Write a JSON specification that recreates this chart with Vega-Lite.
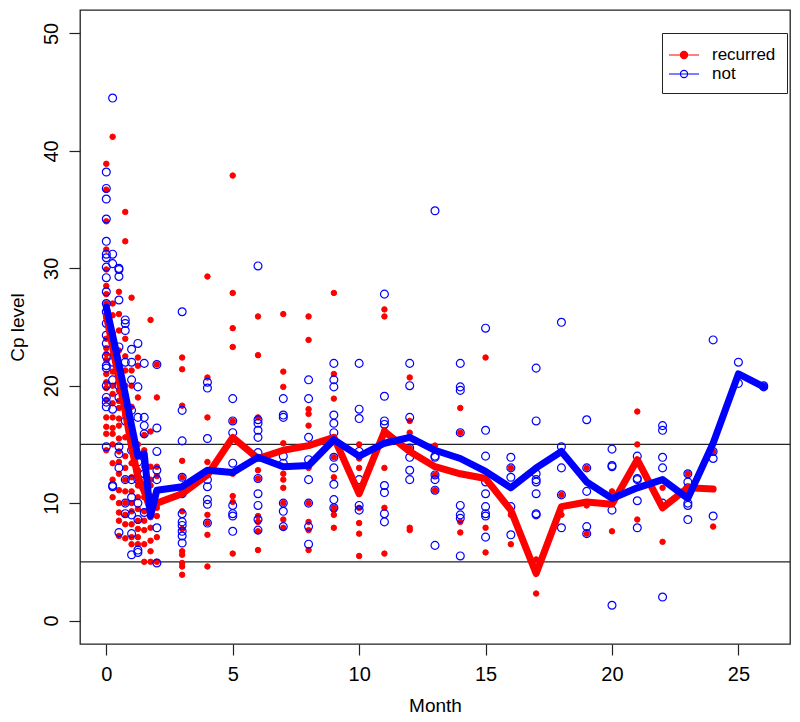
{
"$schema": "https://vega.github.io/schema/vega-lite/v6.json",
"width": 710, "height": 634,
"autosize": "none",
"padding": {"left": 80, "top": 10, "right": 10, "bottom": 78},
"background": "white",
"config": {
  "view": {"stroke": "#222", "strokeWidth": 1.3},
  "font": "Liberation Sans",
  "axis": {"grid": false, "domain": false, "tickColor": "#222", "tickWidth": 1.2, "tickSize": 11, "labelFontSize": 20, "labelColor": "#000", "titleFontSize": 19, "titleFontWeight": "normal", "titleColor": "#000", "labelFont": "Liberation Sans", "titleFont": "Liberation Sans"}
},
"datasets": {
"pts": [
{"m":0,"v":38.9,"g":"recurred"},{"m":0,"v":36.7,"g":"recurred"},{"m":0,"v":34.0,"g":"recurred"},{"m":0,"v":31.6,"g":"recurred"},{"m":0,"v":29.9,"g":"recurred"},{"m":0,"v":28.5,"g":"recurred"},{"m":0,"v":27.8,"g":"recurred"},{"m":0,"v":27.0,"g":"recurred"},{"m":0,"v":22.7,"g":"recurred"},{"m":0,"v":22.2,"g":"recurred"},{"m":0,"v":20.3,"g":"recurred"},{"m":0,"v":18.8,"g":"recurred"},{"m":0,"v":17.3,"g":"recurred"},{"m":0,"v":15.9,"g":"recurred"},
{"m":0,"v":26.5,"g":"recurred"},{"m":0,"v":25.8,"g":"recurred"},{"m":0,"v":24.0,"g":"recurred"},{"m":0,"v":23.2,"g":"recurred"},{"m":0,"v":21.0,"g":"recurred"},{"m":0,"v":19.8,"g":"recurred"},{"m":0,"v":16.5,"g":"recurred"},{"m":0,"v":14.5,"g":"recurred"},
{"m":0.25,"v":41.2,"g":"recurred"},{"m":0.25,"v":27.0,"g":"recurred"},{"m":0.25,"v":22.6,"g":"recurred"},{"m":0.25,"v":21.2,"g":"recurred"},{"m":0.25,"v":20.0,"g":"recurred"},{"m":0.25,"v":19.3,"g":"recurred"},{"m":0.25,"v":17.3,"g":"recurred"},{"m":0.25,"v":16.4,"g":"recurred"},{"m":0.25,"v":15.9,"g":"recurred"},{"m":0.25,"v":13.4,"g":"recurred"},
{"m":0.25,"v":26.0,"g":"recurred"},{"m":0.25,"v":24.5,"g":"recurred"},{"m":0.25,"v":23.5,"g":"recurred"},{"m":0.25,"v":18.5,"g":"recurred"},{"m":0.25,"v":15.0,"g":"recurred"},{"m":0.25,"v":12.0,"g":"recurred"},{"m":0.25,"v":10.5,"g":"recurred"},
{"m":0.5,"v":28.0,"g":"recurred"},{"m":0.5,"v":26.1,"g":"recurred"},{"m":0.5,"v":24.7,"g":"recurred"},{"m":0.5,"v":19.6,"g":"recurred"},{"m":0.5,"v":18.7,"g":"recurred"},{"m":0.5,"v":18.1,"g":"recurred"},{"m":0.5,"v":16.6,"g":"recurred"},{"m":0.5,"v":14.4,"g":"recurred"},{"m":0.5,"v":12.5,"g":"recurred"},{"m":0.5,"v":11.1,"g":"recurred"},{"m":0.5,"v":10.0,"g":"recurred"},{"m":0.5,"v":9.2,"g":"recurred"},
{"m":0.5,"v":23.0,"g":"recurred"},{"m":0.5,"v":21.5,"g":"recurred"},{"m":0.5,"v":17.2,"g":"recurred"},{"m":0.5,"v":15.5,"g":"recurred"},{"m":0.5,"v":13.5,"g":"recurred"},{"m":0.5,"v":8.5,"g":"recurred"},{"m":0.5,"v":7.2,"g":"recurred"},
{"m":0.75,"v":34.8,"g":"recurred"},{"m":0.75,"v":32.3,"g":"recurred"},{"m":0.75,"v":21.3,"g":"recurred"},{"m":0.75,"v":18.9,"g":"recurred"},{"m":0.75,"v":15.6,"g":"recurred"},{"m":0.75,"v":12.0,"g":"recurred"},{"m":0.75,"v":11.0,"g":"recurred"},{"m":0.75,"v":8.2,"g":"recurred"},
{"m":0.75,"v":24.0,"g":"recurred"},{"m":0.75,"v":22.5,"g":"recurred"},{"m":0.75,"v":20.0,"g":"recurred"},{"m":0.75,"v":17.5,"g":"recurred"},{"m":0.75,"v":14.0,"g":"recurred"},{"m":0.75,"v":13.0,"g":"recurred"},{"m":0.75,"v":10.0,"g":"recurred"},{"m":0.75,"v":9.0,"g":"recurred"},{"m":0.75,"v":7.0,"g":"recurred"},
{"m":1,"v":27.5,"g":"recurred"},{"m":1,"v":21.3,"g":"recurred"},{"m":1,"v":18.2,"g":"recurred"},{"m":1,"v":14.6,"g":"recurred"},{"m":1,"v":13.4,"g":"recurred"},{"m":1,"v":11.0,"g":"recurred"},{"m":1,"v":9.3,"g":"recurred"},{"m":1,"v":7.1,"g":"recurred"},
{"m":1,"v":20.0,"g":"recurred"},{"m":1,"v":16.5,"g":"recurred"},{"m":1,"v":15.5,"g":"recurred"},{"m":1,"v":12.2,"g":"recurred"},{"m":1,"v":10.0,"g":"recurred"},{"m":1,"v":8.2,"g":"recurred"},{"m":1,"v":6.5,"g":"recurred"},
{"m":1.25,"v":22.4,"g":"recurred"},{"m":1.25,"v":21.7,"g":"recurred"},{"m":1.25,"v":12.8,"g":"recurred"},{"m":1.25,"v":10.5,"g":"recurred"},{"m":1.25,"v":7.1,"g":"recurred"},{"m":1.25,"v":6.5,"g":"recurred"},
{"m":1.25,"v":19.0,"g":"recurred"},{"m":1.25,"v":15.0,"g":"recurred"},{"m":1.25,"v":14.0,"g":"recurred"},{"m":1.25,"v":11.5,"g":"recurred"},{"m":1.25,"v":9.5,"g":"recurred"},{"m":1.25,"v":8.5,"g":"recurred"},{"m":1.25,"v":7.8,"g":"recurred"},
{"m":1.5,"v":15.8,"g":"recurred"},{"m":1.5,"v":13.1,"g":"recurred"},{"m":1.5,"v":9.3,"g":"recurred"},{"m":1.5,"v":7.7,"g":"recurred"},{"m":1.5,"v":5.0,"g":"recurred"},
{"m":1.5,"v":14.5,"g":"recurred"},{"m":1.5,"v":11.0,"g":"recurred"},{"m":1.5,"v":10.5,"g":"recurred"},{"m":1.5,"v":8.5,"g":"recurred"},{"m":1.5,"v":6.5,"g":"recurred"},
{"m":1.75,"v":25.6,"g":"recurred"},{"m":1.75,"v":16.1,"g":"recurred"},{"m":1.75,"v":13.1,"g":"recurred"},{"m":1.75,"v":10.6,"g":"recurred"},{"m":1.75,"v":9.6,"g":"recurred"},{"m":1.75,"v":7.9,"g":"recurred"},{"m":1.75,"v":5.9,"g":"recurred"},{"m":1.75,"v":5.0,"g":"recurred"},
{"m":1.75,"v":12.0,"g":"recurred"},{"m":1.75,"v":11.5,"g":"recurred"},{"m":1.75,"v":8.8,"g":"recurred"},{"m":1.75,"v":6.8,"g":"recurred"},
{"m":2,"v":21.8,"g":"recurred"},{"m":2,"v":19.0,"g":"recurred"},{"m":2,"v":13.1,"g":"recurred"},{"m":2,"v":12.3,"g":"recurred"},{"m":2,"v":9.6,"g":"recurred"},{"m":2,"v":8.9,"g":"recurred"},{"m":2,"v":7.1,"g":"recurred"},{"m":2,"v":5.0,"g":"recurred"},
{"m":3,"v":22.4,"g":"recurred"},{"m":3,"v":21.4,"g":"recurred"},{"m":3,"v":18.3,"g":"recurred"},{"m":3,"v":13.6,"g":"recurred"},{"m":3,"v":12.2,"g":"recurred"},{"m":3,"v":9.3,"g":"recurred"},{"m":3,"v":7.8,"g":"recurred"},{"m":3,"v":5.9,"g":"recurred"},{"m":3,"v":5.6,"g":"recurred"},{"m":3,"v":4.9,"g":"recurred"},{"m":3,"v":4.6,"g":"recurred"},{"m":3,"v":3.9,"g":"recurred"},
{"m":4,"v":29.3,"g":"recurred"},{"m":4,"v":20.7,"g":"recurred"},{"m":4,"v":17.3,"g":"recurred"},{"m":4,"v":13.5,"g":"recurred"},{"m":4,"v":9.0,"g":"recurred"},{"m":4,"v":8.3,"g":"recurred"},{"m":4,"v":7.3,"g":"recurred"},{"m":4,"v":4.6,"g":"recurred"},
{"m":5,"v":37.9,"g":"recurred"},{"m":5,"v":27.9,"g":"recurred"},{"m":5,"v":24.9,"g":"recurred"},{"m":5,"v":23.3,"g":"recurred"},{"m":5,"v":17.0,"g":"recurred"},{"m":5,"v":12.5,"g":"recurred"},{"m":5,"v":10.6,"g":"recurred"},{"m":5,"v":10.1,"g":"recurred"},{"m":5,"v":5.7,"g":"recurred"},
{"m":6,"v":25.9,"g":"recurred"},{"m":6,"v":22.6,"g":"recurred"},{"m":6,"v":17.3,"g":"recurred"},{"m":6,"v":12.8,"g":"recurred"},{"m":6,"v":12.1,"g":"recurred"},{"m":6,"v":8.9,"g":"recurred"},{"m":6,"v":8.4,"g":"recurred"},{"m":6,"v":7.6,"g":"recurred"},{"m":6,"v":6.0,"g":"recurred"},
{"m":7,"v":26.1,"g":"recurred"},{"m":7,"v":21.2,"g":"recurred"},{"m":7,"v":19.9,"g":"recurred"},{"m":7,"v":15.1,"g":"recurred"},{"m":7,"v":12.5,"g":"recurred"},{"m":7,"v":12.0,"g":"recurred"},{"m":7,"v":11.3,"g":"recurred"},{"m":7,"v":10.0,"g":"recurred"},{"m":7,"v":8.6,"g":"recurred"},{"m":7,"v":7.9,"g":"recurred"},
{"m":8,"v":25.9,"g":"recurred"},{"m":8,"v":23.9,"g":"recurred"},{"m":8,"v":18.0,"g":"recurred"},{"m":8,"v":17.6,"g":"recurred"},{"m":8,"v":16.6,"g":"recurred"},{"m":8,"v":13.0,"g":"recurred"},{"m":8,"v":10.0,"g":"recurred"},{"m":8,"v":8.4,"g":"recurred"},{"m":8,"v":7.7,"g":"recurred"},{"m":8,"v":6.0,"g":"recurred"},
{"m":9,"v":27.9,"g":"recurred"},{"m":9,"v":21.0,"g":"recurred"},{"m":9,"v":18.9,"g":"recurred"},{"m":9,"v":13.9,"g":"recurred"},{"m":9,"v":12.2,"g":"recurred"},{"m":9,"v":9.6,"g":"recurred"},{"m":9,"v":9.4,"g":"recurred"},{"m":9,"v":9.0,"g":"recurred"},{"m":9,"v":7.9,"g":"recurred"},
{"m":10,"v":15.0,"g":"recurred"},{"m":10,"v":13.8,"g":"recurred"},{"m":10,"v":13.0,"g":"recurred"},{"m":10,"v":9.6,"g":"recurred"},{"m":10,"v":8.3,"g":"recurred"},{"m":10,"v":7.4,"g":"recurred"},{"m":10,"v":5.5,"g":"recurred"},
{"m":11,"v":26.5,"g":"recurred"},{"m":11,"v":25.9,"g":"recurred"},{"m":11,"v":16.2,"g":"recurred"},{"m":11,"v":13.0,"g":"recurred"},{"m":11,"v":9.6,"g":"recurred"},{"m":11,"v":5.7,"g":"recurred"},
{"m":12,"v":20.7,"g":"recurred"},{"m":12,"v":17.0,"g":"recurred"},{"m":12,"v":16.0,"g":"recurred"},{"m":12,"v":14.7,"g":"recurred"},{"m":12,"v":7.9,"g":"recurred"},{"m":12,"v":7.7,"g":"recurred"},
{"m":13,"v":14.9,"g":"recurred"},{"m":13,"v":12.4,"g":"recurred"},{"m":13,"v":11.1,"g":"recurred"},
{"m":14,"v":18.1,"g":"recurred"},{"m":14,"v":16.0,"g":"recurred"},{"m":14,"v":8.4,"g":"recurred"},{"m":14,"v":7.5,"g":"recurred"},
{"m":15,"v":22.4,"g":"recurred"},{"m":15,"v":7.9,"g":"recurred"},{"m":15,"v":5.8,"g":"recurred"},
{"m":16,"v":13.0,"g":"recurred"},{"m":16,"v":9.0,"g":"recurred"},{"m":16,"v":6.5,"g":"recurred"},
{"m":17,"v":5.2,"g":"recurred"},{"m":17,"v":2.3,"g":"recurred"},
{"m":18,"v":10.7,"g":"recurred"},{"m":18,"v":9.0,"g":"recurred"},
{"m":19,"v":13.0,"g":"recurred"},{"m":19,"v":9.8,"g":"recurred"},{"m":19,"v":7.4,"g":"recurred"},
{"m":20,"v":11.0,"g":"recurred"},{"m":20,"v":7.6,"g":"recurred"},
{"m":21,"v":17.8,"g":"recurred"},{"m":21,"v":15.0,"g":"recurred"},{"m":21,"v":8.6,"g":"recurred"},
{"m":22,"v":11.3,"g":"recurred"},{"m":22,"v":6.7,"g":"recurred"},
{"m":23,"v":12.5,"g":"recurred"},
{"m":24,"v":14.4,"g":"recurred"},{"m":24,"v":8.0,"g":"recurred"},
{"m":0,"v":38.2,"g":"not"},{"m":0,"v":36.8,"g":"not"},{"m":0,"v":35.9,"g":"not"},{"m":0,"v":34.2,"g":"not"},{"m":0,"v":32.3,"g":"not"},{"m":0,"v":31.2,"g":"not"},{"m":0,"v":30.9,"g":"not"},{"m":0,"v":30.1,"g":"not"},{"m":0,"v":29.2,"g":"not"},{"m":0,"v":26.3,"g":"not"},{"m":0,"v":25.3,"g":"not"},{"m":0,"v":24.3,"g":"not"},{"m":0,"v":23.6,"g":"not"},{"m":0,"v":21.7,"g":"not"},{"m":0,"v":21.5,"g":"not"},{"m":0,"v":19.0,"g":"not"},{"m":0,"v":18.6,"g":"not"},{"m":0,"v":18.2,"g":"not"},{"m":0,"v":14.8,"g":"not"},
{"m":0,"v":28.0,"g":"not"},{"m":0,"v":27.0,"g":"not"},{"m":0,"v":22.5,"g":"not"},{"m":0,"v":20.0,"g":"not"},
{"m":0.25,"v":44.5,"g":"not"},{"m":0.25,"v":31.2,"g":"not"},{"m":0.25,"v":30.4,"g":"not"},{"m":0.25,"v":11.5,"g":"not"},{"m":0.25,"v":11.4,"g":"not"},
{"m":0.25,"v":22.0,"g":"not"},{"m":0.25,"v":20.5,"g":"not"},{"m":0.25,"v":18.0,"g":"not"},
{"m":0.5,"v":30.0,"g":"not"},{"m":0.5,"v":29.9,"g":"not"},{"m":0.5,"v":29.3,"g":"not"},{"m":0.5,"v":27.3,"g":"not"},{"m":0.5,"v":23.3,"g":"not"},{"m":0.5,"v":14.8,"g":"not"},{"m":0.5,"v":14.2,"g":"not"},{"m":0.5,"v":7.5,"g":"not"},
{"m":0.5,"v":20.0,"g":"not"},{"m":0.5,"v":19.0,"g":"not"},{"m":0.5,"v":13.0,"g":"not"},
{"m":0.75,"v":25.6,"g":"not"},{"m":0.75,"v":25.3,"g":"not"},{"m":0.75,"v":24.7,"g":"not"},{"m":0.75,"v":10.0,"g":"not"},{"m":0.75,"v":9.1,"g":"not"},
{"m":0.75,"v":22.0,"g":"not"},{"m":0.75,"v":17.0,"g":"not"},{"m":0.75,"v":12.0,"g":"not"},
{"m":1,"v":23.1,"g":"not"},{"m":1,"v":22.0,"g":"not"},{"m":1,"v":17.9,"g":"not"},{"m":1,"v":12.0,"g":"not"},{"m":1,"v":7.4,"g":"not"},{"m":1,"v":5.6,"g":"not"},
{"m":1,"v":20.5,"g":"not"},{"m":1,"v":14.5,"g":"not"},{"m":1,"v":10.5,"g":"not"},{"m":1,"v":9.0,"g":"not"},
{"m":1.25,"v":23.6,"g":"not"},{"m":1.25,"v":19.9,"g":"not"},{"m":1.25,"v":17.3,"g":"not"},{"m":1.25,"v":12.0,"g":"not"},{"m":1.25,"v":8.6,"g":"not"},{"m":1.25,"v":5.8,"g":"not"},
{"m":1.25,"v":13.5,"g":"not"},{"m":1.25,"v":10.0,"g":"not"},{"m":1.25,"v":6.0,"g":"not"},
{"m":1.5,"v":21.9,"g":"not"},{"m":1.5,"v":17.3,"g":"not"},{"m":1.5,"v":16.6,"g":"not"},{"m":1.5,"v":15.9,"g":"not"},{"m":1.5,"v":12.5,"g":"not"},{"m":1.5,"v":9.2,"g":"not"},
{"m":2,"v":21.8,"g":"not"},{"m":2,"v":16.4,"g":"not"},{"m":2,"v":14.4,"g":"not"},{"m":2,"v":12.8,"g":"not"},{"m":2,"v":12.0,"g":"not"},{"m":2,"v":7.9,"g":"not"},{"m":2,"v":4.9,"g":"not"},
{"m":3,"v":26.3,"g":"not"},{"m":3,"v":17.9,"g":"not"},{"m":3,"v":15.3,"g":"not"},{"m":3,"v":12.2,"g":"not"},{"m":3,"v":10.8,"g":"not"},{"m":3,"v":9.1,"g":"not"},{"m":3,"v":8.4,"g":"not"},{"m":3,"v":8.1,"g":"not"},{"m":3,"v":7.6,"g":"not"},{"m":3,"v":7.2,"g":"not"},{"m":3,"v":6.6,"g":"not"},
{"m":4,"v":20.3,"g":"not"},{"m":4,"v":19.8,"g":"not"},{"m":4,"v":15.5,"g":"not"},{"m":4,"v":12.0,"g":"not"},{"m":4,"v":11.4,"g":"not"},{"m":4,"v":10.3,"g":"not"},{"m":4,"v":9.9,"g":"not"},{"m":4,"v":8.3,"g":"not"},
{"m":5,"v":18.9,"g":"not"},{"m":5,"v":17.0,"g":"not"},{"m":5,"v":16.0,"g":"not"},{"m":5,"v":13.4,"g":"not"},{"m":5,"v":9.8,"g":"not"},{"m":5,"v":9.1,"g":"not"},{"m":5,"v":8.9,"g":"not"},{"m":5,"v":7.6,"g":"not"},
{"m":6,"v":30.2,"g":"not"},{"m":6,"v":17.1,"g":"not"},{"m":6,"v":16.8,"g":"not"},{"m":6,"v":16.2,"g":"not"},{"m":6,"v":15.6,"g":"not"},{"m":6,"v":14.3,"g":"not"},{"m":6,"v":12.1,"g":"not"},{"m":6,"v":10.8,"g":"not"},{"m":6,"v":9.8,"g":"not"},{"m":6,"v":8.6,"g":"not"},{"m":6,"v":7.7,"g":"not"},
{"m":7,"v":18.9,"g":"not"},{"m":7,"v":17.5,"g":"not"},{"m":7,"v":17.3,"g":"not"},{"m":7,"v":14.0,"g":"not"},{"m":7,"v":13.4,"g":"not"},{"m":7,"v":10.0,"g":"not"},{"m":7,"v":9.3,"g":"not"},{"m":7,"v":8.0,"g":"not"},
{"m":8,"v":20.5,"g":"not"},{"m":8,"v":18.9,"g":"not"},{"m":8,"v":15.6,"g":"not"},{"m":8,"v":13.7,"g":"not"},{"m":8,"v":12.0,"g":"not"},{"m":8,"v":10.0,"g":"not"},{"m":8,"v":8.0,"g":"not"},{"m":8,"v":6.5,"g":"not"},
{"m":9,"v":21.9,"g":"not"},{"m":9,"v":20.5,"g":"not"},{"m":9,"v":19.9,"g":"not"},{"m":9,"v":17.5,"g":"not"},{"m":9,"v":16.8,"g":"not"},{"m":9,"v":16.0,"g":"not"},{"m":9,"v":13.9,"g":"not"},{"m":9,"v":13.0,"g":"not"},{"m":9,"v":11.6,"g":"not"},{"m":9,"v":10.3,"g":"not"},{"m":9,"v":9.6,"g":"not"},
{"m":10,"v":21.9,"g":"not"},{"m":10,"v":18.0,"g":"not"},{"m":10,"v":17.2,"g":"not"},{"m":10,"v":14.4,"g":"not"},{"m":10,"v":12.0,"g":"not"},{"m":10,"v":9.8,"g":"not"},{"m":10,"v":9.4,"g":"not"},
{"m":11,"v":27.8,"g":"not"},{"m":11,"v":19.1,"g":"not"},{"m":11,"v":17.0,"g":"not"},{"m":11,"v":16.7,"g":"not"},{"m":11,"v":11.5,"g":"not"},{"m":11,"v":10.9,"g":"not"},{"m":11,"v":9.1,"g":"not"},{"m":11,"v":8.4,"g":"not"},
{"m":12,"v":21.9,"g":"not"},{"m":12,"v":20.0,"g":"not"},{"m":12,"v":17.3,"g":"not"},{"m":12,"v":14.7,"g":"not"},{"m":12,"v":13.9,"g":"not"},{"m":12,"v":12.8,"g":"not"},{"m":12,"v":12.0,"g":"not"},
{"m":13,"v":34.9,"g":"not"},{"m":13,"v":14.0,"g":"not"},{"m":13,"v":13.9,"g":"not"},{"m":13,"v":12.4,"g":"not"},{"m":13,"v":12.0,"g":"not"},{"m":13,"v":11.1,"g":"not"},{"m":13,"v":6.4,"g":"not"},
{"m":14,"v":21.9,"g":"not"},{"m":14,"v":19.9,"g":"not"},{"m":14,"v":19.6,"g":"not"},{"m":14,"v":16.0,"g":"not"},{"m":14,"v":9.8,"g":"not"},{"m":14,"v":9.0,"g":"not"},{"m":14,"v":8.7,"g":"not"},{"m":14,"v":5.5,"g":"not"},
{"m":15,"v":24.9,"g":"not"},{"m":15,"v":16.2,"g":"not"},{"m":15,"v":14.0,"g":"not"},{"m":15,"v":11.8,"g":"not"},{"m":15,"v":10.8,"g":"not"},{"m":15,"v":9.7,"g":"not"},{"m":15,"v":9.1,"g":"not"},{"m":15,"v":8.9,"g":"not"},{"m":15,"v":7.1,"g":"not"},
{"m":16,"v":13.9,"g":"not"},{"m":16,"v":13.0,"g":"not"},{"m":16,"v":12.2,"g":"not"},{"m":16,"v":9.7,"g":"not"},{"m":16,"v":7.3,"g":"not"},
{"m":17,"v":21.5,"g":"not"},{"m":17,"v":17.0,"g":"not"},{"m":17,"v":12.5,"g":"not"},{"m":17,"v":12.0,"g":"not"},{"m":17,"v":11.8,"g":"not"},{"m":17,"v":10.8,"g":"not"},{"m":17,"v":9.1,"g":"not"},{"m":17,"v":9.0,"g":"not"},
{"m":18,"v":25.4,"g":"not"},{"m":18,"v":14.8,"g":"not"},{"m":18,"v":13.0,"g":"not"},{"m":18,"v":10.7,"g":"not"},{"m":18,"v":7.9,"g":"not"},
{"m":19,"v":17.1,"g":"not"},{"m":19,"v":13.0,"g":"not"},{"m":19,"v":11.0,"g":"not"},{"m":19,"v":8.0,"g":"not"},{"m":19,"v":7.4,"g":"not"},
{"m":20,"v":14.6,"g":"not"},{"m":20,"v":13.2,"g":"not"},{"m":20,"v":13.1,"g":"not"},{"m":20,"v":9.4,"g":"not"},{"m":20,"v":1.3,"g":"not"},
{"m":21,"v":14.0,"g":"not"},{"m":21,"v":12.1,"g":"not"},{"m":21,"v":12.0,"g":"not"},{"m":21,"v":10.2,"g":"not"},{"m":21,"v":7.9,"g":"not"},
{"m":22,"v":16.6,"g":"not"},{"m":22,"v":16.2,"g":"not"},{"m":22,"v":13.9,"g":"not"},{"m":22,"v":13.0,"g":"not"},{"m":22,"v":10.0,"g":"not"},{"m":22,"v":2.0,"g":"not"},
{"m":23,"v":12.5,"g":"not"},{"m":23,"v":11.8,"g":"not"},{"m":23,"v":11.3,"g":"not"},{"m":23,"v":10.0,"g":"not"},{"m":23,"v":9.8,"g":"not"},{"m":23,"v":8.6,"g":"not"},
{"m":24,"v":23.9,"g":"not"},{"m":24,"v":14.4,"g":"not"},{"m":24,"v":13.8,"g":"not"},{"m":24,"v":8.9,"g":"not"},
{"m":25,"v":22.0,"g":"not"},{"m":25,"v":20.2,"g":"not"},
{"m":26,"v":19.9,"g":"not"},{"m":26,"v":20.0,"g":"not"}
],
"lines": [
{"m":0,"v":26.0,"g":"recurred"},{"m":0.25,"v":23.3,"g":"recurred"},{"m":0.5,"v":20.5,"g":"recurred"},{"m":0.75,"v":17.8,"g":"recurred"},{"m":1,"v":14.8,"g":"recurred"},{"m":1.25,"v":12.2,"g":"recurred"},{"m":1.5,"v":11.0,"g":"recurred"},{"m":1.75,"v":9.4,"g":"recurred"},{"m":2,"v":10.0,"g":"recurred"},{"m":3,"v":10.8,"g":"recurred"},{"m":4,"v":12.4,"g":"recurred"},{"m":5,"v":15.6,"g":"recurred"},{"m":6,"v":13.8,"g":"recurred"},{"m":7,"v":14.5,"g":"recurred"},{"m":8,"v":14.9,"g":"recurred"},{"m":9,"v":15.6,"g":"recurred"},{"m":10,"v":10.8,"g":"recurred"},{"m":11,"v":16.1,"g":"recurred"},{"m":12,"v":14.4,"g":"recurred"},{"m":13,"v":13.1,"g":"recurred"},{"m":14,"v":12.5,"g":"recurred"},{"m":15,"v":12.1,"g":"recurred"},{"m":16,"v":9.4,"g":"recurred"},{"m":17,"v":4.0,"g":"recurred"},{"m":18,"v":9.7,"g":"recurred"},{"m":19,"v":10.1,"g":"recurred"},{"m":20,"v":9.9,"g":"recurred"},{"m":21,"v":13.7,"g":"recurred"},{"m":22,"v":9.6,"g":"recurred"},{"m":23,"v":11.3,"g":"recurred"},{"m":24,"v":11.2,"g":"recurred"},
{"m":0,"v":26.7,"g":"not"},{"m":0.25,"v":24.3,"g":"not"},{"m":0.5,"v":21.8,"g":"not"},{"m":0.75,"v":19.3,"g":"not"},{"m":1,"v":16.6,"g":"not"},{"m":1.25,"v":14.0,"g":"not"},{"m":1.5,"v":14.2,"g":"not"},{"m":1.75,"v":8.9,"g":"not"},{"m":2,"v":11.1,"g":"not"},{"m":3,"v":11.4,"g":"not"},{"m":4,"v":12.8,"g":"not"},{"m":5,"v":12.6,"g":"not"},{"m":6,"v":13.9,"g":"not"},{"m":7,"v":13.1,"g":"not"},{"m":8,"v":13.2,"g":"not"},{"m":9,"v":15.4,"g":"not"},{"m":10,"v":14.0,"g":"not"},{"m":11,"v":15.1,"g":"not"},{"m":12,"v":15.6,"g":"not"},{"m":13,"v":14.5,"g":"not"},{"m":14,"v":13.8,"g":"not"},{"m":15,"v":12.7,"g":"not"},{"m":16,"v":11.3,"g":"not"},{"m":17,"v":13.0,"g":"not"},{"m":18,"v":14.4,"g":"not"},{"m":19,"v":11.8,"g":"not"},{"m":20,"v":10.4,"g":"not"},{"m":21,"v":11.3,"g":"not"},{"m":22,"v":12.0,"g":"not"},{"m":23,"v":10.4,"g":"not"},{"m":24,"v":15.1,"g":"not"},{"m":25,"v":21.0,"g":"not"},{"m":26,"v":19.9,"g":"not"}
]
},
"layer": [
{
  "data": {"values": [{"h": 5}, {"h": 15}]},
  "mark": {"type": "rule", "color": "#222", "strokeWidth": 1.3},
  "encoding": {
    "y": {"field": "h", "type": "quantitative", "scale": {"domain": [-2, 52], "nice": false, "zero": false},
      "axis": {"values": [0, 10, 20, 30, 40, 50], "title": "Cp level", "labelAngle": -90, "labelAlign": "center", "labelBaseline": "bottom", "labelPadding": 8, "titlePadding": 14}}
  }
},
{
  "data": {"name": "pts"},
  "transform": [{"filter": "datum.g === 'recurred'"}],
  "mark": {"type": "point", "size": 30, "strokeWidth": 1, "opacity": 1},
  "encoding": {
    "x": {"field": "m", "type": "quantitative", "scale": {"domain": [-1.04, 27.04], "nice": false, "zero": false},
      "axis": {"values": [0, 5, 10, 15, 20, 25], "title": "Month", "labelPadding": 9, "titlePadding": 12}},
    "y": {"field": "v", "type": "quantitative"},
    "fill": {"field": "g", "type": "nominal", "scale": {"domain": ["recurred", "not"], "range": ["#ff0000", "transparent"]},
      "legend": {"title": null, "orient": "none", "legendX": 582, "legendY": 23, "strokeColor": "#222", "padding": 11, "labelFontSize": 17, "labelFont": "Liberation Sans", "labelColor": "#000", "symbolType": "M-1.5,0L1.5,0M0.36,0A0.36,0.36,0,1,1,-0.36,0A0.36,0.36,0,1,1,0.36,0Z", "symbolSize": 400, "symbolStrokeWidth": 1.2, "labelOffset": 17, "rowPadding": 0, "symbolOpacity": 1}},
    "stroke": {"field": "g", "type": "nominal", "scale": {"domain": ["recurred", "not"], "range": ["#ff0000", "#0000ff"]},
      "legend": {"title": null, "orient": "none", "legendX": 582, "legendY": 23, "strokeColor": "#222", "padding": 11, "labelFontSize": 17, "labelFont": "Liberation Sans", "labelColor": "#000", "symbolType": "M-1.5,0L1.5,0M0.36,0A0.36,0.36,0,1,1,-0.36,0A0.36,0.36,0,1,1,0.36,0Z", "symbolSize": 400, "symbolStrokeWidth": 1.2, "labelOffset": 17, "rowPadding": 0, "symbolOpacity": 1}}
  }
},
{
  "data": {"name": "pts"},
  "transform": [{"filter": "datum.g === 'not'"}],
  "mark": {"type": "point", "size": 62, "strokeWidth": 1.2, "opacity": 1},
  "encoding": {
    "x": {"field": "m", "type": "quantitative"},
    "y": {"field": "v", "type": "quantitative"},
    "fill": {"field": "g", "type": "nominal"},
    "stroke": {"field": "g", "type": "nominal"}
  }
},
{
  "data": {"name": "lines"},
  "transform": [{"filter": "datum.g === 'recurred'"}],
  "mark": {"type": "line", "strokeWidth": 7, "strokeCap": "round", "strokeJoin": "round"},
  "encoding": {
    "x": {"field": "m", "type": "quantitative"},
    "y": {"field": "v", "type": "quantitative"},
    "stroke": {"field": "g", "type": "nominal"}
  }
},
{
  "data": {"name": "lines"},
  "transform": [{"filter": "datum.g === 'not'"}],
  "mark": {"type": "line", "strokeWidth": 7, "strokeCap": "round", "strokeJoin": "round"},
  "encoding": {
    "x": {"field": "m", "type": "quantitative"},
    "y": {"field": "v", "type": "quantitative"},
    "stroke": {"field": "g", "type": "nominal"}
  }
}
]
}
